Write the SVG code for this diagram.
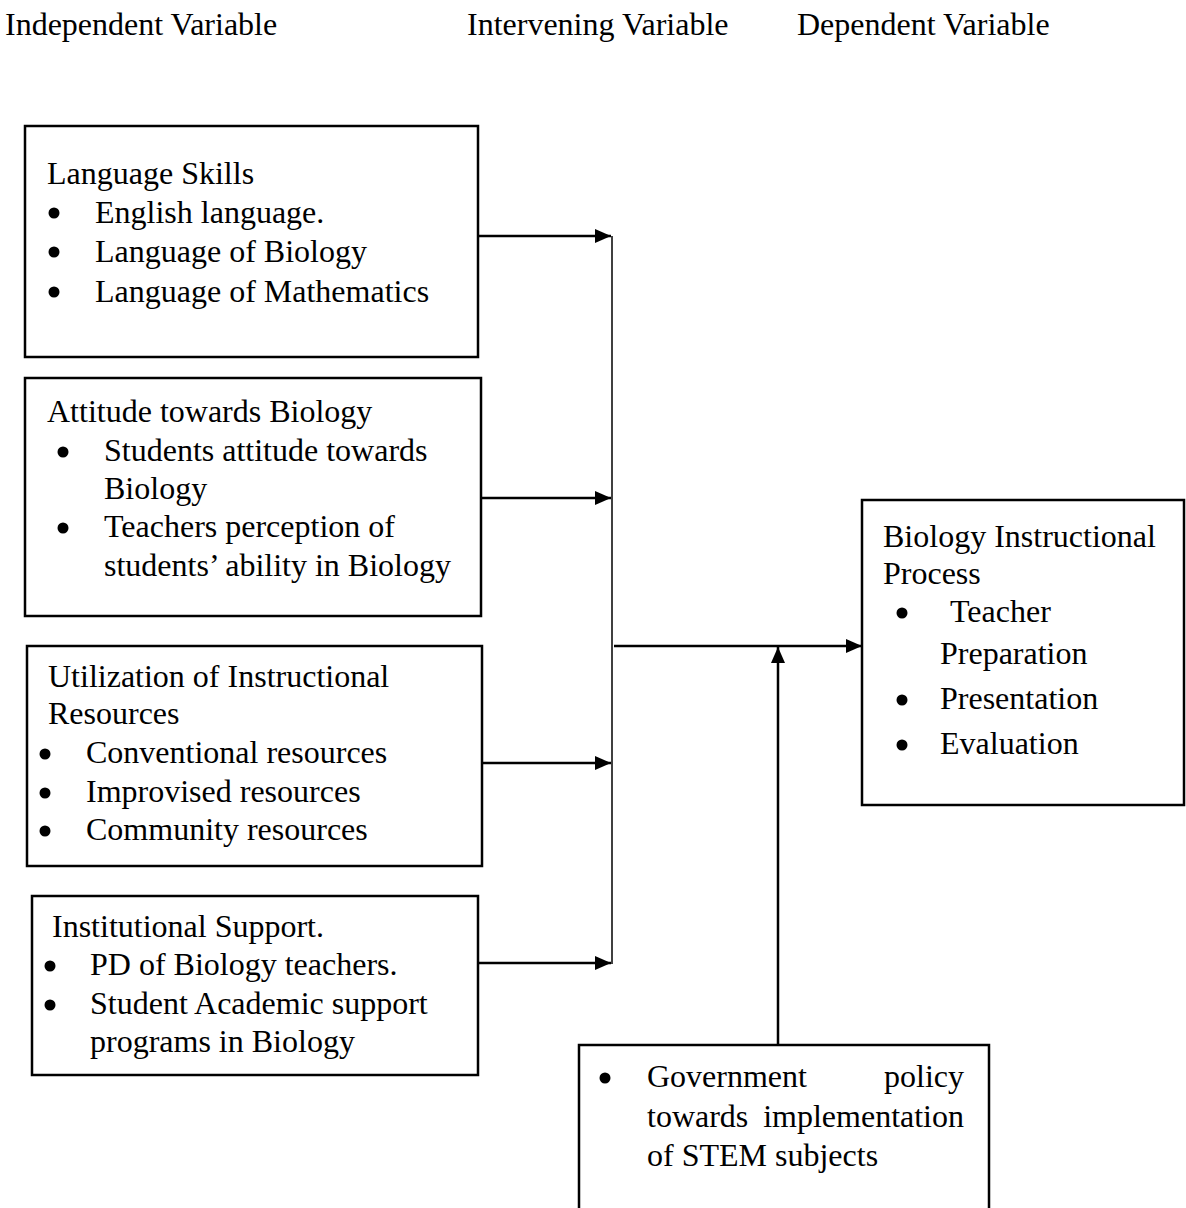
<svg xmlns="http://www.w3.org/2000/svg" width="1186" height="1208" viewBox="0 0 1186 1208">
<style>
text{font-family:"Liberation Serif","Times New Roman",serif;font-size:32px;fill:#000}
.box{fill:#fff;stroke:#000;stroke-width:2.5}
.c{stroke:#000;stroke-width:2.5;fill:none}
.thin{stroke:#000;stroke-width:1.5;fill:none}
.b{fill:#000}
</style>
<defs>
<marker id="ah" viewBox="0 0 16 14" refX="16" refY="7" markerWidth="16" markerHeight="14" markerUnits="userSpaceOnUse" orient="auto">
<path d="M0,0 L16,7 L0,14 Z" fill="#000"/>
</marker>
</defs>
<rect width="1186" height="1208" fill="#fff"/>
<g id="headers">
<text x="5" y="35">Independent Variable</text>
<text x="467" y="35">Intervening Variable</text>
<text x="797" y="35">Dependent Variable</text>
</g>
<g id="connectors">
<line class="thin" x1="612" y1="236" x2="612" y2="964"/>
<line class="c" x1="478" y1="236" x2="611" y2="236" marker-end="url(#ah)"/>
<line class="c" x1="481" y1="498" x2="611" y2="498" marker-end="url(#ah)"/>
<line class="c" x1="481" y1="763" x2="611" y2="763" marker-end="url(#ah)"/>
<line class="c" x1="478" y1="963" x2="611" y2="963" marker-end="url(#ah)"/>
<line class="c" x1="614" y1="646" x2="862" y2="646" marker-end="url(#ah)"/>
<line class="c" x1="778" y1="1045" x2="778" y2="647" marker-end="url(#ah)"/>
</g>
<g id="language-skills">
<rect class="box" x="25" y="126" width="453" height="231"/>
<text x="47" y="184">Language Skills</text>
<circle class="b" cx="54" cy="213" r="5.5"/><text x="95" y="223">English language.</text>
<circle class="b" cx="54" cy="252" r="5.5"/><text x="95" y="262">Language of Biology</text>
<circle class="b" cx="54" cy="292" r="5.5"/><text x="95" y="302">Language of Mathematics</text>
</g>
<g id="attitude">
<rect class="box" x="25" y="378" width="456" height="238"/>
<text x="47" y="422">Attitude towards Biology</text>
<circle class="b" cx="63" cy="452" r="5.5"/><text x="104" y="461">Students attitude towards</text>
<text x="104" y="499">Biology</text>
<circle class="b" cx="63" cy="528" r="5.5"/><text x="104" y="537">Teachers perception of</text>
<text x="104" y="576">students’ ability in Biology</text>
</g>
<g id="resources">
<rect class="box" x="27" y="646" width="455" height="220"/>
<text x="48" y="687">Utilization of Instructional</text>
<text x="48" y="724">Resources</text>
<circle class="b" cx="45" cy="754" r="5.5"/><text x="86" y="763">Conventional resources</text>
<circle class="b" cx="45" cy="793" r="5.5"/><text x="86" y="802">Improvised resources</text>
<circle class="b" cx="45" cy="831" r="5.5"/><text x="86" y="840">Community resources</text>
</g>
<g id="institutional">
<rect class="box" x="32" y="896" width="446" height="179"/>
<text x="52" y="937">Institutional Support.</text>
<circle class="b" cx="50" cy="966" r="5.5"/><text x="90" y="975">PD of Biology teachers.</text>
<circle class="b" cx="50" cy="1005" r="5.5"/><text x="90" y="1014">Student Academic support</text>
<text x="90" y="1052">programs in Biology</text>
</g>
<g id="process">
<rect class="box" x="862" y="500" width="322" height="305"/>
<text x="883" y="547">Biology Instructional</text>
<text x="883" y="584">Process</text>
<circle class="b" cx="902" cy="613" r="5.5"/><text x="950" y="622">Teacher</text>
<text x="940" y="664">Preparation</text>
<circle class="b" cx="902" cy="700" r="5.5"/><text x="940" y="709">Presentation</text>
<circle class="b" cx="902" cy="745" r="5.5"/><text x="940" y="754">Evaluation</text>
</g>
<g id="government">
<rect class="box" x="579" y="1045" width="410" height="180"/>
<circle class="b" cx="605" cy="1078" r="5.5"/>
<text x="647" y="1087">Government</text>
<text x="964" y="1087" text-anchor="end">policy</text>
<text x="647" y="1127">towards</text>
<text x="964" y="1127" text-anchor="end">implementation</text>
<text x="647" y="1166">of STEM subjects</text>
</g>
</svg>
